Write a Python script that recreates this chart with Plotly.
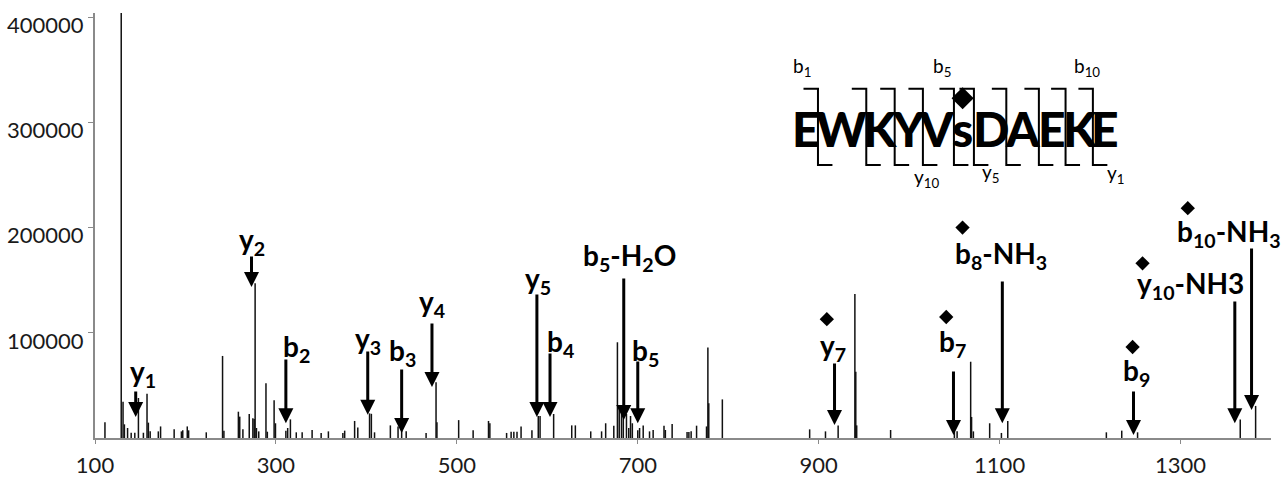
import plotly.graph_objects as go

# ---------------- data ----------------
peak_mz = [111, 129, 131, 132.5, 136, 140, 144, 148, 153.5, 157.5, 159, 161, 170, 172.5, 187.5,
           195.5, 197, 202, 203.5, 223, 241, 242.5, 258.5, 260, 263.5, 270.5, 274.5, 276, 277,
           278.5, 281, 289, 290.5, 298, 299.5, 311, 313, 316, 322.5, 329, 340, 350, 358, 374,
           376, 387, 390.5, 403.5, 405.5, 409, 426.5, 435, 439, 444, 466, 477, 478, 502, 518,
           535, 536.5, 555, 560, 563, 566.5, 571, 583, 590, 592, 607, 627, 631, 648, 660,
           664.5, 673.5, 677.5, 679.5, 682, 684, 687.5, 690, 692, 694, 700, 702, 706, 713,
           717, 729, 730.5, 738, 754.5, 756.5, 759, 765, 776, 777.5, 778.5, 793.5, 890,
           907.5, 921.5, 940, 941, 942, 979.5, 1050, 1053, 1068, 1069, 1071, 1089, 1102,
           1109, 1218, 1235, 1252.5, 1366, 1383]
peak_int = [15000, 430000, 34500, 13000, 9500, 5000, 5000, 38000, 5000, 42000, 14600, 6300, 6300,
            11000, 8200, 6300, 7300, 11000, 7300, 5400, 78000, 7000, 25000, 20300, 8200, 22800,
            18700, 18000, 147000, 9500, 6300, 52000, 6000, 36000, 14000, 7000, 9500, 17700,
            5400, 5400, 7600, 4800, 6300, 4800, 7000, 16200, 10000, 23400, 23000, 5400, 12000,
            11000, 7600, 6300, 4800, 53000, 15000, 17000, 7300, 16200, 14000, 4800, 6000, 6000,
            6000, 11000, 7300, 20900, 20900, 22800, 12000, 12000, 6300, 6300, 14000, 11700,
            91000, 28200, 23400, 25000, 22800, 9500, 20900, 14000, 7300, 9500, 12000, 6300,
            7600, 11700, 7600, 13300, 5700, 5700, 6300, 11700, 11000, 86000, 33000, 36700,
            8200, 6300, 12000, 137000, 63000, 12000, 7600, 6300, 6300, 72500, 20000, 6300,
            14000, 4800, 16200, 5400, 7000, 5400, 17700, 30500]

ion_labels = ["y<sub>1</sub>", "y<sub>2</sub>", "b<sub>2</sub>", "y<sub>3</sub>", "b<sub>3</sub>",
              "y<sub>4</sub>", "y<sub>5</sub>", "b<sub>4</sub>", "b<sub>5</sub>-H<sub>2</sub>O",
              "b<sub>5</sub>", "y<sub>7</sub>", "b<sub>7</sub>", "b<sub>8</sub>-NH<sub>3</sub>",
              "b<sub>9</sub>", "y<sub>10</sub>-NH3", "b<sub>10</sub>-NH<sub>3</sub>"]
label_mz = [153.5, 273.5, 323, 402, 440, 473, 589.5, 615, 691, 709, 915.5, 1048, 1102, 1251, 1311, 1354]
label_int = [62000, 187000, 85500, 93000, 81700, 128000, 150000, 90000, 172000, 81700, 86500,
             90000, 174000, 62700, 145000, 195000]
arrow_mz = [145, 273, 311, 401.5, 439, 472.5, 588.5, 603, 684.5, 700, 917.5, 1049, 1103, 1248, 1360, 1378.5]
arrow_tip = [20000, 143500, 14000, 22000, 4800, 48500, 20000, 20000, 17000, 14000, 12300, 2900,
             14000, 2900, 14000, 26600]
arrow_tail = [45600, 173900, 76000, 83600, 66500, 110200, 137750, 81700, 153000, 74100, 72200,
              64600, 150100, 45600, 131100, 181450]
phospho_mz = [909, 1041, 1059, 1247, 1258, 1308]
phospho_int = [113000, 115000, 200000, 86500, 166000, 218500]

sequence = ["E", "W", "K", "Y", "V", "s", "D", "A", "E", "K", "E"]
seq_mz = [886.4, 925.1, 968.2, 999.4, 1030.4, 1059.1, 1090.8, 1125.4, 1157.5, 1188.4, 1216.8]
seq_int = 294500
cleave_mz = [899.2, 952.6, 984.0, 1015.2, 1049.5, 1071.6, 1107.4, 1143.4, 1172.9, 1203.1]
bracket_top, bracket_bot = 332000, 259500
frag_names = ["b<sub>1</sub>", "b<sub>5</sub>", "b<sub>10</sub>", "y<sub>10</sub>", "y<sub>5</sub>", "y<sub>1</sub>"]
frag_mz = [881.2, 1035.9, 1196.1, 1019.3, 1090.6, 1228.7]
frag_int = [353000, 353000, 353000, 247000, 252000, 251000]
seq_site_mz, seq_site_int = [1059.1], [323000]

x_ticks = [100, 300, 500, 700, 900, 1100, 1300]
y_ticks = [100000, 200000, 300000, 400000]

FONT = "Lato"

fig = go.Figure()

# spectrum peaks as vertical sticks
xs, ys = [], []
for m, v in zip(peak_mz, peak_int):
    xs += [m, m, None]
    ys += [0, v, None]
fig.add_trace(go.Scatter(x=xs, y=ys, mode="lines", line=dict(color="#111111", width=1.5),
                         hoverinfo="skip", showlegend=False))

# phospho diamonds
fig.add_trace(go.Scatter(x=phospho_mz, y=phospho_int, mode="markers",
                         marker=dict(symbol="diamond", size=11, color="black"),
                         showlegend=False, hoverinfo="skip"))
fig.add_trace(go.Scatter(x=seq_site_mz, y=seq_site_int, mode="markers",
                         marker=dict(symbol="diamond", size=17, color="black"),
                         showlegend=False, hoverinfo="skip"))

ann = []
for t, lx, ly in zip(ion_labels, label_mz, label_int):
    ann.append(dict(x=lx, y=ly, xref="x", yref="y", text=t, showarrow=False,
                    font=dict(family=FONT, size=28, color="black", weight="bold"),
                    xanchor="center", yanchor="middle"))
for m, tip, tail in zip(arrow_mz, arrow_tip, arrow_tail):
    ann.append(dict(x=m, y=tip, xref="x", yref="y", ax=m, ay=tail, axref="x", ayref="y",
                    text="", showarrow=True, arrowhead=2, arrowsize=1, arrowwidth=3,
                    arrowcolor="black"))
for s, sx in zip(sequence, seq_mz):
    ann.append(dict(x=sx, y=seq_int, xref="x", yref="y", text=s, showarrow=False,
                    font=dict(family=FONT, size=48, color="black", weight=900),
                    xanchor="center", yanchor="middle"))
for t, fx, fy in zip(frag_names, frag_mz, frag_int):
    ann.append(dict(x=fx, y=fy, xref="x", yref="y", text=t, showarrow=False,
                    font=dict(family=FONT, size=19, color="black"),
                    xanchor="center", yanchor="middle"))
fig.update_layout(annotations=ann)

# fragmentation brackets
hook = 16
for c in cleave_mz:
    fig.add_shape(type="path",
                  path=f"M {c-hook},{bracket_top} L {c},{bracket_top} L {c},{bracket_bot} L {c+hook},{bracket_bot}",
                  xref="x", yref="y", line=dict(color="black", width=2), layer="below")

fig.update_layout(
    width=1287, height=477,
    margin=dict(l=95, r=16, t=13, b=39, autoexpand=False),
    paper_bgcolor="white", plot_bgcolor="white",
    font=dict(family=FONT, size=22, color="#1a1a1a"),
    xaxis=dict(range=[100, 1400], tickvals=x_ticks, ticktext=[str(v) for v in x_ticks],
               showline=True, linecolor="#8a8a8a", linewidth=2, ticks="outside", ticklen=4,
               tickcolor="#8a8a8a", showgrid=False, zeroline=False, automargin=False,
               ticklabelstandoff=3,
               tickfont=dict(family=FONT, size=22, color="#1a1a1a")),
    yaxis=dict(range=[0, 404000], tickvals=y_ticks, ticktext=[str(v) for v in y_ticks],
               showline=True, linecolor="#8a8a8a", linewidth=2, ticks="outside", ticklen=5,
               tickcolor="#8a8a8a", showgrid=False, zeroline=False, automargin=False,
               ticklabelshift=8,
               tickfont=dict(family=FONT, size=22, color="#1a1a1a")),
)

fig.write_html("out.html", config={"displayModeBar": False},
               post_script="document.body.style.margin='0';document.body.style.overflow='hidden';")
